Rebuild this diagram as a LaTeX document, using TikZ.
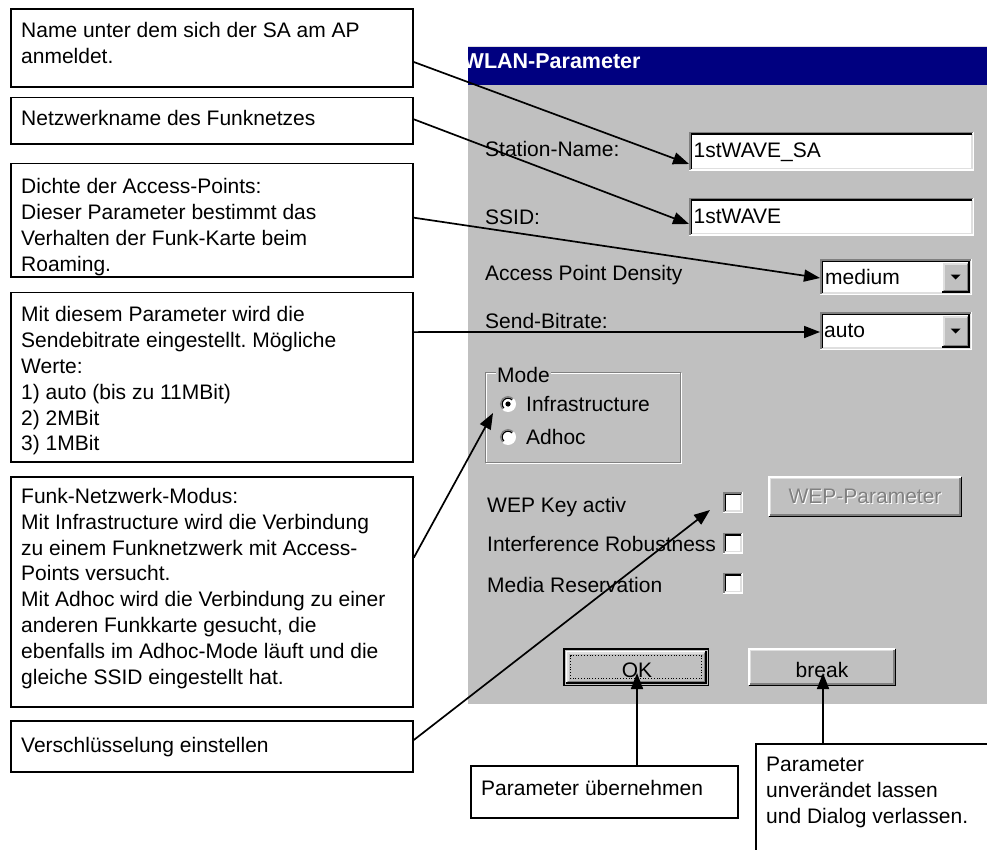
\documentclass[tikz,border=0pt]{standalone}
\usepackage{fontspec}
\setmainfont{Liberation Sans}
\usetikzlibrary{arrows.meta}
\frenchspacing
\definecolor{dlggray}{HTML}{C0C0C0}
\definecolor{titleblue}{HTML}{000080}
\definecolor{shadegray}{HTML}{808080}
\definecolor{lightedge}{HTML}{DFDFDF}
\newcommand{\cfont}{\fontsize{21pt}{25.8pt}\selectfont}
\newcommand{\dfont}{\fontsize{21pt}{25pt}\selectfont}
\newcommand{\fl}{\rule{0pt}{21pt}}
\newcommand{\dlgsunken}[1]{%
  \draw[white,line width=1.5pt] ([shift={(0.75pt,0.75pt)}]#1.south west) -- ([shift={(-0.75pt,0.75pt)}]#1.south east) -- ([shift={(-0.75pt,-0.75pt)}]#1.north east);
  \draw[lightedge,line width=1.5pt] ([shift={(2.25pt,2.25pt)}]#1.south west) -- ([shift={(-2.25pt,2.25pt)}]#1.south east) -- ([shift={(-2.25pt,-2.25pt)}]#1.north east);
  \draw[shadegray,line width=1.5pt] ([shift={(0.75pt,0.75pt)}]#1.south west) -- ([shift={(0.75pt,-0.75pt)}]#1.north west) -- ([shift={(-0.75pt,-0.75pt)}]#1.north east);
  \draw[black,line width=1.5pt] ([shift={(2.25pt,2.25pt)}]#1.south west) -- ([shift={(2.25pt,-2.25pt)}]#1.north west) -- ([shift={(-2.25pt,-2.25pt)}]#1.north east);
}
\newcommand{\dlgraised}[1]{%
  \draw[white,line width=1.5pt] ([shift={(0.75pt,0.75pt)}]#1.south west) -- ([shift={(0.75pt,-0.75pt)}]#1.north west) -- ([shift={(-0.75pt,-0.75pt)}]#1.north east);
  \draw[lightedge,line width=1.5pt] ([shift={(2.25pt,2.25pt)}]#1.south west) -- ([shift={(2.25pt,-2.25pt)}]#1.north west) -- ([shift={(-2.25pt,-2.25pt)}]#1.north east);
  \draw[black,line width=1.5pt] ([shift={(0.75pt,0.75pt)}]#1.south west) -- ([shift={(-0.75pt,0.75pt)}]#1.south east) -- ([shift={(-0.75pt,-0.75pt)}]#1.north east);
  \draw[shadegray,line width=1.5pt] ([shift={(2.25pt,2.25pt)}]#1.south west) -- ([shift={(-2.25pt,2.25pt)}]#1.south east) -- ([shift={(-2.25pt,-2.25pt)}]#1.north east);
}
\newcommand{\ddtri}[1]{%
  \fill[black] ([shift={(-5pt,2.5pt)}]#1.center) -- ++(10pt,0pt) -- ++(-5pt,-5pt) -- cycle;
}
\begin{document}
\begin{tikzpicture}[x=1pt,y=-1pt,
  callout/.style={draw=black, line width=1.8pt, fill=white, inner sep=0pt, anchor=north west},
  ctext/.style={font=\cfont, inner sep=0pt, anchor=north west, align=left, text=black},
  dtext/.style={font=\dfont, inner sep=0pt, anchor=base west, text=black},
  fld/.style={fill=white, draw=none, inner sep=0pt, outer sep=0pt, anchor=north west},
  btn/.style={fill=dlggray, draw=none, inner sep=0pt, outer sep=0pt, anchor=north west},
  arr/.style={line width=1.7pt, -{Triangle[length=16pt,width=12pt]}}]
\useasboundingbox (0,0) rectangle (987,850);
\clip (0,0) rectangle (987,850);
\fill[white] (0,0) rectangle (987,850);

% ---------- dialog window ----------
\fill[dlggray] (468,85) rectangle (987,704);
\fill[titleblue] (468,47) rectangle (987,85);
\draw[lightedge,line width=1pt] (468,46.5) -- (987,46.5);
\begin{scope}
  \clip (468,47) rectangle (987,85);
  \node[font=\bfseries\fontsize{21.5pt}{24pt}\selectfont, text=white, anchor=base west, inner sep=0pt] (title) at (463.5,69) {WLAN-Parameter};
\end{scope}

% labels
\node[dtext] (lStation) at (485,156.5) {Station-Name:};
\node[dtext] (lSSID) at (485,224.5) {SSID:};
\node[dtext] (lDensity) at (485,280.5) {Access Point Density};
\node[dtext] (lRate) at (485,328) {Send-Bitrate:};

% text fields
\node[fld, minimum width=285pt, minimum height=39pt] (fStation) at (689,132) {};
\dlgsunken{fStation}
\node[dtext] (vStation) at (693.5,158) {1stWAVE\_SA};
\node[fld, minimum width=285pt, minimum height=38pt] (fSSID) at (689,198) {};
\dlgsunken{fSSID}
\node[dtext] (vSSID) at (693.5,224) {1stWAVE};

% drop-downs
\node[fld, minimum width=152pt, minimum height=36pt] (ddDensity) at (820,259) {};
\dlgsunken{ddDensity}
\node[dtext] (vDensity) at (825,284) {medium};
\node[btn, minimum width=28pt, minimum height=31pt, anchor=north east] (bDensity) at (969.5,261.5) {};
\dlgraised{bDensity}
\ddtri{bDensity}
\node[fld, minimum width=152pt, minimum height=38pt] (ddRate) at (820,312) {};
\dlgsunken{ddRate}
\node[dtext] (vRate) at (824,337) {auto};
\node[btn, minimum width=28pt, minimum height=33pt, anchor=north east] (bRate) at (969.5,314.5) {};
\dlgraised{bRate}
\ddtri{bRate}

% mode group
\node[btn, minimum width=195pt, minimum height=90pt] (gMode) at (485,372) {};
\draw[white,line width=1pt] ([shift={(1pt,-1pt)}]gMode.north west) rectangle ([shift={(1pt,-1pt)}]gMode.south east);
\draw[shadegray,line width=1pt] (gMode.north west) rectangle (gMode.south east);
\node[dtext, fill=dlggray, inner xsep=1pt, inner ysep=0pt] (lMode) at (496,382) {Mode};
\node[circle, fill=white, minimum size=16pt, inner sep=0pt] (rInfra) at (508,404) {};
\draw[shadegray,line width=1.4pt] (rInfra.center) ++(45:7.3pt) arc[start angle=45,end angle=225,radius=7.3pt];
\draw[black,line width=1.2pt] (rInfra.center) ++(45:5.8pt) arc[start angle=45,end angle=225,radius=5.8pt];
\fill[black] (rInfra.center) circle[radius=2.6pt];
\node[dtext] (tInfra) at (526,411.5) {Infrastructure};
\node[circle, fill=white, minimum size=16pt, inner sep=0pt] (rAdhoc) at (508,437) {};
\draw[shadegray,line width=1.4pt] (rAdhoc.center) ++(45:7.3pt) arc[start angle=45,end angle=225,radius=7.3pt];
\draw[black,line width=1.2pt] (rAdhoc.center) ++(45:5.8pt) arc[start angle=45,end angle=225,radius=5.8pt];
\node[dtext] (tAdhoc) at (526,444.5) {Adhoc};

% check boxes
\node[dtext] (lWEP) at (487,512) {WEP Key activ};
\node[dtext] (lIR) at (487,551.5) {Interference Robustness};
\node[dtext] (lMR) at (487,592) {Media Reservation};
\node[fld, minimum width=20pt, minimum height=21pt] (cb1) at (723,492) {};
\dlgsunken{cb1}
\node[fld, minimum width=20pt, minimum height=21pt] (cb2) at (723,532.5) {};
\dlgsunken{cb2}
\node[fld, minimum width=20pt, minimum height=21pt] (cb3) at (723,572.5) {};
\dlgsunken{cb3}

% buttons
\node[btn, minimum width=194pt, minimum height=41pt] (bWEP) at (768,476) {};
\dlgraised{bWEP}
\node[font=\dfont, text=white, inner sep=0pt, anchor=base] (tWEPs) at (866,504.5) {WEP-Parameter};
\node[font=\dfont, text=shadegray, inner sep=0pt, anchor=base] (tWEP) at (865,503.5) {WEP-Parameter};

\node[btn, minimum width=146pt, minimum height=38pt] (okb) at (563,648) {};
\draw[black,line width=1.5pt] ([shift={(0.75pt,0.75pt)}]okb.south west) rectangle ([shift={(-0.75pt,-0.75pt)}]okb.north east);
\node[btn, minimum width=141pt, minimum height=33pt, anchor=center] (okin) at (okb.center) {};
\dlgraised{okin}
\draw[black,line width=0.8pt,dotted] ([shift={(5pt,5pt)}]okin.south west) rectangle ([shift={(-5pt,-5pt)}]okin.north east);
\node[font=\dfont, inner sep=0pt, anchor=base] (tOK) at (637,677.5) {OK};

\node[btn, minimum width=148pt, minimum height=38pt] (brk) at (748,648) {};
\dlgraised{brk}
\node[font=\dfont, inner sep=0pt, anchor=base] (tBrk) at (822,677.5) {break};

% ---------- callout boxes ----------
\node[callout, minimum width=402pt, minimum height=78pt] (b1) at (10,8) {};
\node[ctext] (b1t) at (21,16.3) {\fl Name unter dem sich der SA am AP\\anmeldet.};
\node[callout, minimum width=402pt, minimum height=46.6pt] (b2) at (10,96.7) {};
\node[ctext] (b2t) at (21,104) {\fl Netzwerkname des Funknetzes};
\node[callout, minimum width=402pt, minimum height=113.3pt] (b3) at (10,162.7) {};
\node[ctext] (b3t) at (21,172.5) {\fl Dichte der Access-Points:\\Dieser Parameter bestimmt das\\Verhalten der Funk-Karte beim\\Roaming.};
\node[callout, minimum width=402pt, minimum height=169.4pt] (b4) at (10,291.6) {};
\node[ctext] (b4t) at (21,300.6) {\fl Mit diesem Parameter wird die\\Sendebitrate eingestellt. Mögliche\\Werte:\\1) auto (bis zu 11MBit)\\2) 2MBit\\3) 1MBit};
\node[callout, minimum width=402pt, minimum height=230pt] (b5) at (10,475.7) {};
\node[ctext] (b5t) at (21,482.3) {\fl Funk-Netzwerk-Modus:\\Mit Infrastructure wird die Verbindung\\zu einem Funknetzwerk mit Access-\\Points versucht.\\Mit Adhoc wird die Verbindung zu einer\\anderen Funkkarte gesucht, die\\ebenfalls im Adhoc-Mode läuft und die\\gleiche SSID eingestellt hat.};
\node[callout, minimum width=402pt, minimum height=51pt] (b6) at (10,720) {};
\node[ctext] (b6t) at (21,731) {\fl Verschlüsselung einstellen};
\node[callout, minimum width=267pt, minimum height=52pt] (b7) at (470,765) {};
\node[ctext] (b7t) at (481,774) {\fl Parameter übernehmen};
\node[callout, minimum width=232pt, minimum height=140pt] (b8) at (755,742.7) {};
\node[ctext] (b8t) at (766,750.7) {\fl Parameter\\unverändet lassen\\und Dialog verlassen.};

% ---------- connectors ----------
\draw[arr] ([yshift=-54pt]b1.north east) -- ([yshift=7pt]fStation.south west);
\draw[arr] ([yshift=-22.6pt]b2.north east) -- ([yshift=12pt]fSSID.south west);
\draw[arr] ([yshift=-55pt]b3.north east) -- ([yshift=-19pt]ddDensity.north west);
\draw[arr] ([yshift=-40.5pt]b4.north east) -- ([yshift=-20pt]ddRate.north west);
\draw[arr] ([yshift=-82pt]b5.north east) -- ([shift={(-15pt,-9pt)}]rInfra.center);
\draw[arr] ([yshift=-20pt]b6.north east) -- ([shift={(-23pt,-7.5pt)}]cb1.center);
\draw[arr] (b7.north -| tOK.center) -- ([yshift=13pt]okb.south -| tOK.center);
\draw[arr] ([xshift=1pt]b8.north -| tBrk.center) -- ([shift={(1pt,13pt)}]brk.south -| tBrk.center);
\end{tikzpicture}
\end{document}
